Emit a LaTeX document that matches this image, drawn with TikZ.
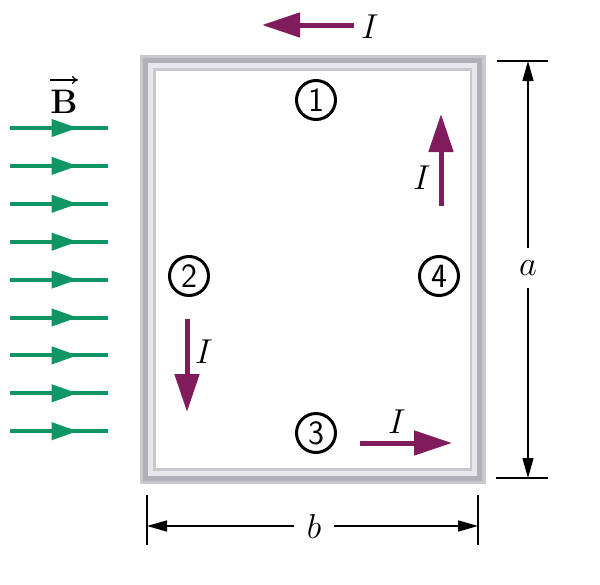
\documentclass[tikz,border=0pt]{standalone}
\usepackage{fontspec}
\usepackage{amsmath, amssymb}
\usepackage{xcolor}
\usepackage{tikz}
\usetikzlibrary{arrows.meta, decorations.markings}

\definecolor{fieldgreen}{RGB}{16,150,100}
\definecolor{currentpurple}{RGB}{128,28,92}
\definecolor{wirebase}{RGB}{200,200,206}
\definecolor{wiredark}{RGB}{176,176,184}
\definecolor{wirelight}{RGB}{232,232,236}

\tikzset{
    current/.style={draw=currentpurple, line width=2.5pt, -{Triangle[length=19pt, width=12pt]}},
    fieldline/.style={draw=fieldgreen, line width=2pt, postaction={decorate},
        decoration={markings, mark=at position 0.69 with {\arrow[fieldgreen]{Triangle[length=13pt, width=8.5pt]}}}},
    dimline/.style={draw=black, line width=0.7pt},
    dimarrow/.style={dimline, -{Triangle[length=10pt, width=5.5pt]}},
    symlabel/.style={font=\fontsize{19}{22}\selectfont},
    regionmark/.style={circle, draw, line width=1.5pt, minimum size=19.5pt, inner sep=0pt,
        font=\fontsize{17}{17}\selectfont\sffamily},
}

\begin{document}
\begin{tikzpicture}[x=0.5pt, y=-0.5pt]
            \useasboundingbox (0,0) rectangle (600,584);

            % wire loop
            \draw[wirebase, line width=8pt, line join=miter] (148,62.5) rectangle (477.5,476);
            \draw[wiredark, line width=2.5pt, line join=miter] (145.5,60.5) rectangle (479.5,478.5);
            \draw[wirelight, line width=2.5pt, line join=miter] (150.5,65.5) rectangle (474.5,473.5);

            % field lines
            \foreach \i in {0,...,8} {
                \coordinate (f\i s) at (10, 128+37.9*\i);
                \coordinate (f\i e) at (108, 128+37.9*\i);
                \draw[fieldline] (f\i s) -- (f\i e);
            }
            \node[font=\fontsize{17}{18}\selectfont\bfseries, inner sep=0pt] (B) at (64,102) {B};
            \draw[line width=0.6pt, -{To[length=3pt, width=4pt]}] ([yshift=5pt]B.north west) -- ([yshift=5pt]B.north east); % vector arrow

            % regions
            \node[regionmark] (r1) at (316,100) {1};
            \node[regionmark] (r2) at (189,276) {2};
            \node[regionmark] (r3) at (316,433) {3};
            \node[regionmark] (r4) at (439,276) {4};

            % currents
            \coordinate (c1s) at (354,25);
            \coordinate (c1e) at (262,25);
            \draw[current] (c1s) -- (c1e); % top
            \node[symlabel] (I1) at (370,27) {$I$};
            \coordinate (c2s) at (187,319);
            \coordinate (c2e) at (187,412);
            \draw[current] (c2s) -- (c2e); % left
            \node[symlabel] (I2) at (204,352) {$I$};
            \coordinate (c3s) at (360,443);
            \coordinate (c3e) at (452,443);
            \draw[current] (c3s) -- (c3e); % bottom
            \node[symlabel] (I3) at (397,422) {$I$};
            \coordinate (c4s) at (441,206);
            \coordinate (c4e) at (441,114);
            \draw[current] (c4s) -- (c4e); % right
            \node[symlabel] (I4) at (422,178) {$I$};

            % dimension a
            \coordinate (aT) at (528,61);
            \coordinate (aB) at (528,478);
            \coordinate (aT1) at (497,61);
            \coordinate (aT2) at (548,61);
            \coordinate (aB1) at (496,478);
            \coordinate (aB2) at (548,478);
            \draw[dimline] (aT1) -- (aT2);
            \draw[dimline] (aB1) -- (aB2);
            \node[symlabel, inner sep=6pt] (a) at (528,268) {$a$};
            \draw[dimarrow] (a) -- (aT);
            \draw[dimarrow] (a) -- (aB);

            % dimension b
            \coordinate (bL) at (147,526);
            \coordinate (bR) at (478,526);
            \coordinate (bL1) at (147,495);
            \coordinate (bL2) at (147,545);
            \coordinate (bR1) at (478,495);
            \coordinate (bR2) at (478,545);
            \draw[dimline] (bL1) -- (bL2);
            \draw[dimline] (bR1) -- (bR2);
            \node[symlabel, inner sep=6pt] (b) at (314,526) {$b$};
            \draw[dimarrow] (b) -- (bL);
            \draw[dimarrow] (b) -- (bR);
        \end{tikzpicture}
\end{document}
